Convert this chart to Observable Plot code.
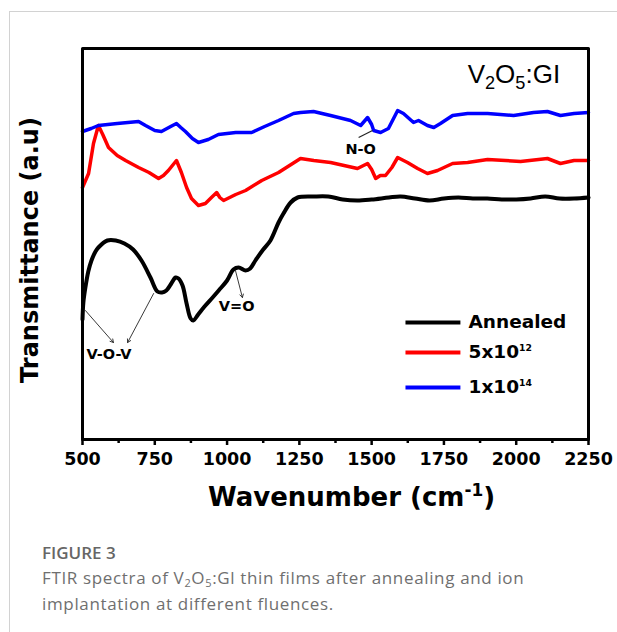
<!DOCTYPE html>
<html>
<head>
<meta charset="utf-8">
<script src="https://cdn.jsdelivr.net/npm/d3@7"></script>
<script src="https://cdn.jsdelivr.net/npm/@observablehq/plot@0.6"></script>
<style>
  html, body { margin: 0; padding: 0; background: #fff; }
  body { width: 617px; height: 632px; position: relative; overflow: hidden; }
  #border { position: absolute; left: 9px; top: 11px; right: 0; bottom: 0;
            border-left: 1px solid #d2d2d2; border-top: 1px solid #d2d2d2; }
  #chart { position: absolute; left: 0; top: 0; }
  #caption { position: absolute; left: 42px; top: 541px; font-family: "Open Sans", sans-serif; color: #6f6f6f; }
  #caption .fig { font-size: 17px; font-weight: 600; color: #666; line-height: 24px; }
  #caption .txt { font-size: 17px; letter-spacing: 0.65px; line-height: 26px; }
  #caption sub { font-size: 11px; vertical-align: -3px; line-height: 0; }
</style>
</head>
<body>
<div id="border"></div>
<div id="chart"></div>
<div id="caption">
  <div class="fig">FIGURE 3</div>
  <div class="txt">FTIR spectra of V<sub>2</sub>O<sub>5</sub>:Gl thin films after annealing and ion<br>implantation at different fluences.</div>
</div>
<script>
// ---------- data (transmittance in arbitrary units) ----------
const annealedWn = [500,503,510,520,531,545,555,586,615,645,675,704,735,759,775,790,805,822,832,846,860,874,883,900,922,950,971,1000,1022,1040,1064,1080,1098,1125,1150,1178,1195,1220,1244,1300,1350,1400,1450,1500,1560,1600,1650,1700,1750,1800,1850,1900,1950,2000,2050,2100,2150,2200,2250];
const annealedT  = [118,135,150,166,177,186,190,197,197,194,188,177,160,146,145,147,153,160,159,152,134,119,117,123,131,140,147,157,168,170,167,169,177,188,197,215,224,235,240,241,241,238,237,238,240,241,239,237,239,240,239,239,238,238,239,241,239,239,240];

const f5e12Wn = [500,521,538,555,570,590,620,649,694,730,763,780,797,825,842,860,877,901,925,946,964,975,988,1030,1064,1120,1178,1254,1300,1358,1451,1486,1500,1514,1530,1548,1570,1590,1624,1659,1693,1728,1780,1832,1901,2015,2108,2153,2200,2250];
const f5e12T  = [250,264,294,312,303,290,282,277,270,265,259,262,267,277,265,250,239,232,234,240,245,240,237,243,247,257,265,279,277,275,269,274,268,259,262,262,270,280,275,269,264,267,274,275,278,276,279,274,277,277];

const f1e14Wn = [500,530,555,620,694,718,750,773,805,825,840,856,880,901,935,970,1030,1085,1130,1178,1230,1254,1299,1358,1427,1462,1486,1500,1507,1531,1558,1590,1610,1645,1662,1693,1715,1738,1780,1832,1901,1991,2060,2108,2153,2200,2250];
const f1e14T  = [306,309,312,314,316,312,307,306,311,314,310,306,299,295,298,303,305,305,311,317,324,325,326,322,317,312,320,313,307,305,309,327,324,315,317,312,310,314,322,324,324,322,325,326,322,324,325];

const seriesNames  = ["Annealed", "5x10^{12}", "1x10^{14}"];
const seriesColors = ["#000000", "#ff0000", "#0000ff"];

const majorTicks = [500, 750, 1000, 1250, 1500, 1750, 2000, 2250];
const minorTicks = [625, 875, 1125, 1375, 1625, 1875, 2125];

const xLabel = "Wavenumber (cm^{-1})";
const yLabel = "Transmittance (a.u)";
const sampleLabel = "V_{2}O_{5}:GI";

// ---------- build tables ----------
const toRows = (wn, t, name) => wn.map((w, i) => ({wn: w, t: t[i], series: name}));
const annealed = toRows(annealedWn, annealedT, seriesNames[0]);
const f5e12 = toRows(f5e12Wn, f5e12T, seriesNames[1]);
const f1e14 = toRows(f1e14Wn, f1e14T, seriesNames[2]);

// ---------- layout (annotation / legend placement in data units) ----------
const legendY = [115, 85, 50];
const legendX1 = 1617, legendX2 = 1807, legendTextX = 1835;
const legend = seriesNames.map((n, i) => ({name: n, color: seriesColors[i], y: legendY[i]}));

const arrows = [
  {x1: 510, y1: 127, x2: 607, y2: 95},
  {x1: 746, y1: 144, x2: 656, y2: 95},
  {x1: 1029, y1: 167, x2: 1053, y2: 140}
];
const notes = [
  {x: 592, y: 83, text: "V-O-V"},
  {x: 1033, y: 131, text: "V=O"},
  {x: 1462, y: 288, text: "N-O"}
];
const noteLink = [{x1: 1455, y1: 300, x2: 1503, y2: 307}];

const plot = Plot.plot({
  width: 617,
  height: 520,
  marginLeft: 82,
  marginRight: 29,
  marginTop: 48,
  marginBottom: 81,
  style: {fontFamily: "DejaVu Sans", fontSize: "17.5px", fontWeight: "bold", background: "transparent", color: "black"},
  x: {domain: [500, 2250], label: null},
  y: {domain: [-2, 389], axis: null},
  marks: [
    Plot.axisX({ticks: majorTicks, tickSize: 6, tickPadding: 7, strokeWidth: 2.5, tickFormat: d => String(d), label: null}),
    Plot.axisX({ticks: minorTicks, tickSize: 4, strokeWidth: 2.5, tickFormat: () => "", label: null}),
    Plot.line(annealed, {x: "wn", y: "t", stroke: seriesColors[0], strokeWidth: 4, curve: "catmull-rom"}),
    Plot.line(f5e12, {x: "wn", y: "t", stroke: seriesColors[1], strokeWidth: 3.5}),
    Plot.line(f1e14, {x: "wn", y: "t", stroke: seriesColors[2], strokeWidth: 3.5}),
    Plot.arrow(arrows, {x1: "x1", y1: "y1", x2: "x2", y2: "y2", stroke: "#222", strokeWidth: 0.9, headLength: 6}),
    Plot.link(noteLink, {x1: "x1", y1: "y1", x2: "x2", y2: "y2", stroke: "#222", strokeWidth: 1.2}),
    Plot.text(notes, {x: "x", y: "y", text: "text", fontSize: 14.5, fontWeight: "bold", fill: "black"}),
    Plot.text([sampleLabel], {x: 1832, y: 363, text: d => d, textAnchor: "start", fontFamily: "Liberation Sans", fontWeight: "normal", fontSize: 26}),
    Plot.link(legend, {x1: legendX1, x2: legendX2, y1: "y", y2: "y", stroke: "color", strokeWidth: 4}),
    Plot.text(legend, {x: legendTextX, y: "y", text: "name", textAnchor: "start", fontSize: 18.5, fontWeight: "bold"}),
    Plot.text([xLabel], {frameAnchor: "bottom", textAnchor: "middle", lineAnchor: "middle", dx: 16, dy: 58, text: d => d, fontSize: 26, fontWeight: "bold"}),
    Plot.text([yLabel], {frameAnchor: "left", textAnchor: "middle", lineAnchor: "middle", dx: -52, dy: 6, rotate: -90, text: d => d, fontSize: 24, fontWeight: "bold"}),
    Plot.frame({stroke: "black", strokeWidth: 3, strokeLinejoin: "round"})
  ]
});

// rich text: ^{..} superscript, _{..} subscript (shifted with dy, then restored)
function richify(root) {
  root.querySelectorAll("text").forEach(t => {
    const s = t.textContent;
    if (!/[\^_]\{/.test(s)) return;
    while (t.firstChild) t.removeChild(t.firstChild);
    const big = /cm/.test(s);
    const re = /([\^_])\{([^}]*)\}|([^\^_]+)/g;
    let m, pending = 0;
    while ((m = re.exec(s))) {
      const ts = document.createElementNS("http://www.w3.org/2000/svg", "tspan");
      if (m[1]) {
        const sup = m[1] === "^";
        const shift = sup ? (big ? -10 : -7) : 6;
        ts.textContent = m[2];
        ts.setAttribute("dy", shift + pending);
        ts.style.fontSize = sup ? (big ? "0.65em" : "0.5em") : "0.7em";
        pending = -shift;
      } else {
        ts.textContent = m[3];
        if (pending) ts.setAttribute("dy", pending);
        pending = 0;
      }
      t.appendChild(ts);
    }
  });
}
richify(plot);
document.getElementById("chart").appendChild(plot);
</script>
</body>
</html>
